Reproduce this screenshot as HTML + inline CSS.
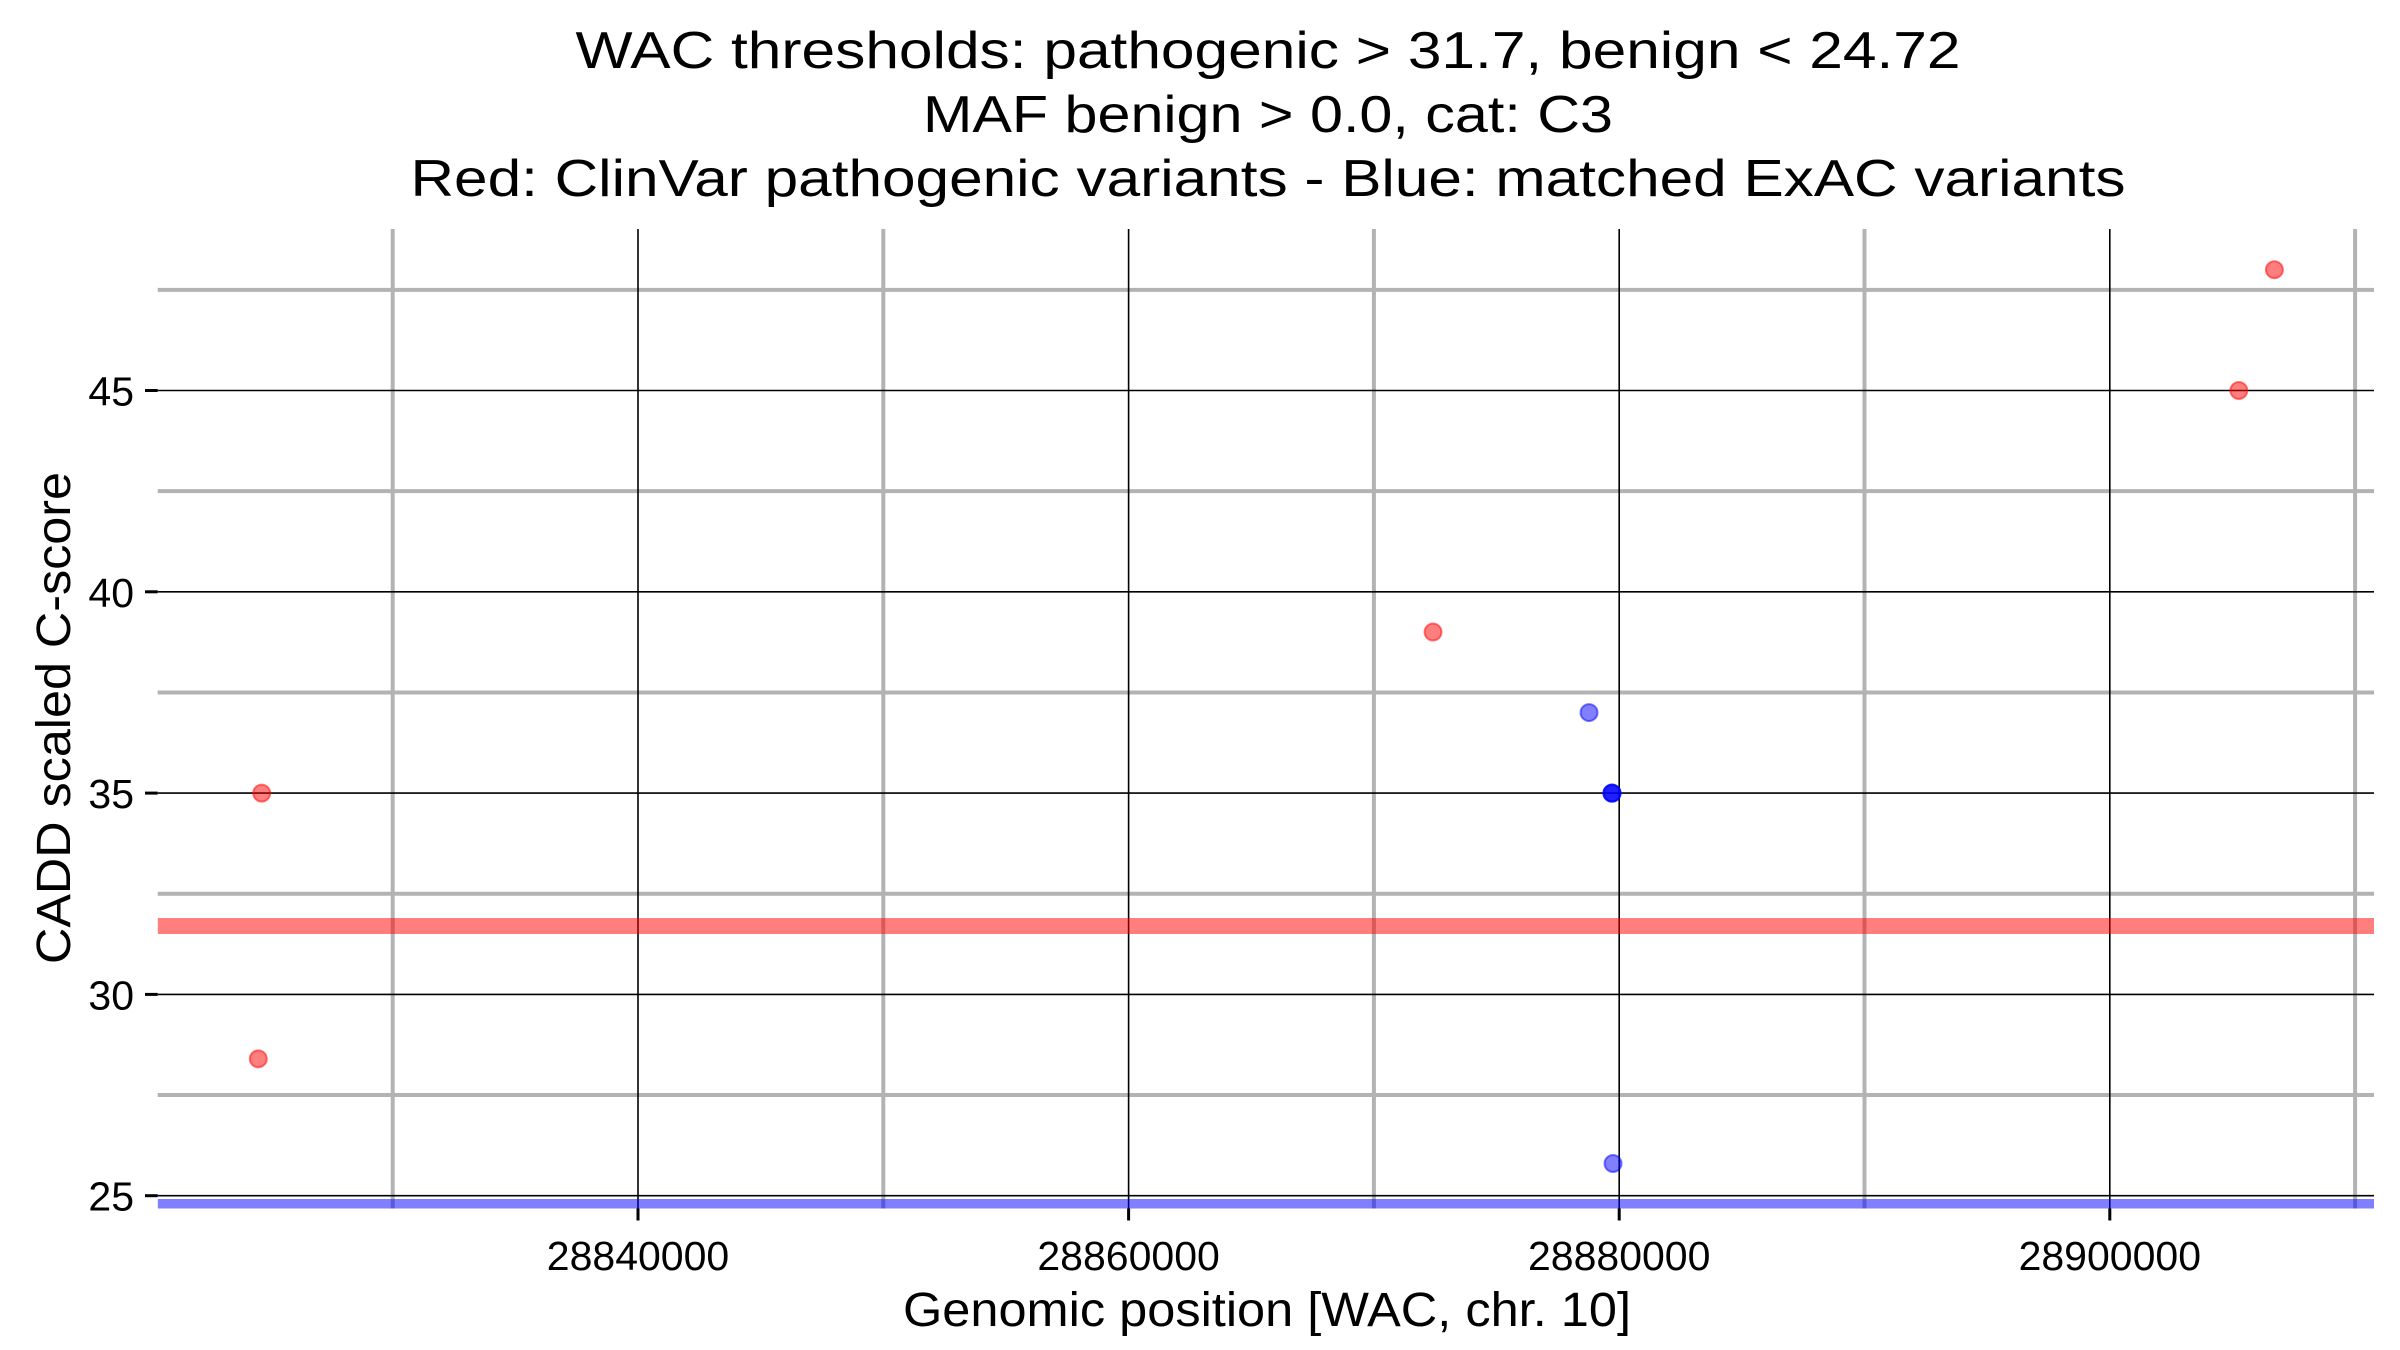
<!DOCTYPE html>
<html><head><meta charset="utf-8"><style>
html,body{margin:0;padding:0;background:#fff;}
svg{display:block;font-family:"Liberation Sans",sans-serif;}
</style></head><body>
<svg id="chart" width="2400" height="1350" viewBox="0 0 2400 1350" xmlns="http://www.w3.org/2000/svg">
<g font-size="52" text-anchor="middle" fill="#000">
<text x="1268" y="68" textLength="1385" lengthAdjust="spacingAndGlyphs">WAC thresholds: pathogenic &gt; 31.7, benign &lt; 24.72</text>
<text x="1268" y="132" textLength="690" lengthAdjust="spacingAndGlyphs">MAF benign &gt; 0.0, cat: C3</text>
<text x="1268" y="196" textLength="1715" lengthAdjust="spacingAndGlyphs">Red: ClinVar pathogenic variants - Blue: matched ExAC variants</text>
</g>
<g id="grid"></g>
<g id="bands"></g>
<g id="points"></g>
<g id="axes"></g>
<text x="1267" y="1326" font-size="48" text-anchor="middle" textLength="728" lengthAdjust="spacingAndGlyphs">Genomic position [WAC, chr. 10]</text>
<text transform="translate(70,718) rotate(-90)" font-size="48" text-anchor="middle" textLength="492" lengthAdjust="spacingAndGlyphs">CADD scaled C-score</text>
</svg>
<script>
const xMajorTicks = [28840000, 28860000, 28880000, 28900000];
const xMinorTicks = [28830000, 28850000, 28870000, 28890000, 28910000];
const yMajorTicks = [25, 30, 35, 40, 45];
const yMinorTicks = [27.5, 32.5, 37.5, 42.5, 47.5];
const pathogenicThreshold = 31.7;
const benignThreshold = 24.72;
const redX = [28824520, 28824660, 28872410, 28905260, 28906710];
const redY = [28.4, 35, 39, 45, 48];
const blueX = [28878770, 28879707, 28879707, 28879707, 28879748];
const blueY = [37, 35, 35, 35, 25.8];

const NS = 'http://www.w3.org/2000/svg';
const L = 157.7, R = 2374, T = 229, B = 1208.5;
const xs = v => 638 + (v - 28840000) * 0.024530;
const ys = v => 1195.7 - (v - 25) * 40.26;
function mk(parent, tag, attrs) {
  const e = document.createElementNS(NS, tag);
  for (const k in attrs) e.setAttribute(k, attrs[k]);
  document.getElementById(parent).appendChild(e);
  return e;
}
yMinorTicks.forEach(v => {
  const e = mk('grid', 'line', {x1: L, x2: R, y1: ys(v), y2: ys(v), stroke: '#b3b3b3', 'stroke-width': 4});
  
  
});
xMinorTicks.forEach(v => {
  const e = mk('grid', 'line', {x1: xs(v), x2: xs(v), y1: T, y2: B, stroke: '#b3b3b3', 'stroke-width': 4});
  
  
});
yMajorTicks.forEach(v => {
  const e = mk('grid', 'line', {x1: L, x2: R, y1: ys(v), y2: ys(v), stroke: '#000', 'stroke-width': 1.6});
  
  
  const t = mk('axes', 'line', {x1: 145, x2: L, y1: ys(v), y2: ys(v), stroke: '#000', 'stroke-width': 3});
  
  
  const lb = mk('axes', 'text', {x: 134, y: ys(v) + 15, 'font-size': 41, 'text-anchor': 'end'});
  lb.textContent = v;
  
  
});
xMajorTicks.forEach(v => {
  const e = mk('grid', 'line', {x1: xs(v), x2: xs(v), y1: T, y2: B, stroke: '#000', 'stroke-width': 1.6});
  
  
  const t = mk('axes', 'line', {x1: xs(v), x2: xs(v), y1: B, y2: B + 12, stroke: '#000', 'stroke-width': 3});
  
  
  const lb = mk('axes', 'text', {x: xs(v), y: 1270, 'font-size': 41, 'text-anchor': 'middle'});
  lb.textContent = v;
  
  
});
const clip = mk('bands', 'clipPath', {id: 'pc'});
const cr = document.createElementNS(NS, 'rect');
cr.setAttribute('x', L); cr.setAttribute('y', T); cr.setAttribute('width', R - L); cr.setAttribute('height', B - T);
clip.appendChild(cr);
const pb = mk('bands', 'line', {x1: L, x2: R, y1: ys(pathogenicThreshold), y2: ys(pathogenicThreshold), stroke: '#ff0000', 'stroke-opacity': 0.5, 'stroke-width': 16, 'clip-path': 'url(#pc)'});


const bb = mk('bands', 'line', {x1: L, x2: R, y1: ys(benignThreshold), y2: ys(benignThreshold), stroke: '#0000ff', 'stroke-opacity': 0.5, 'stroke-width': 16, 'clip-path': 'url(#pc)'});


redX.forEach((x, i) => {
  const c = mk('points', 'circle', {cx: xs(x), cy: ys(redY[i]), r: 8.5, fill: '#ff0000', 'fill-opacity': 0.5, stroke: '#ff0000', 'stroke-opacity': 0.5, 'stroke-width': 2});
  
  
});
blueX.forEach((x, i) => {
  const c = mk('points', 'circle', {cx: xs(x), cy: ys(blueY[i]), r: 8.5, fill: '#0000ff', 'fill-opacity': 0.5, stroke: '#0000ff', 'stroke-opacity': 0.5, 'stroke-width': 2});
  
  
});
</script>
</body></html>
